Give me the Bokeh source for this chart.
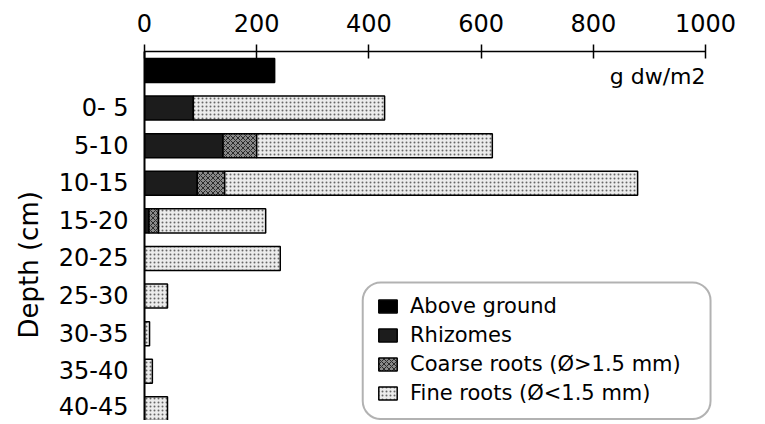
import numpy as np
from bokeh.plotting import figure
from bokeh.models import (Range1d, FixedTicker, BoxAnnotation, Label, Legend,
                          LegendItem, ColumnDataSource, Title)
from bokeh.embed import file_html
from bokeh.resources import INLINE

# ---- data (g dw / m2) ----
rows = ["", "0- 5", "5-10", "10-15", "15-20", "20-25", "25-30", "30-35", "35-40", "40-45"]
above_ground = [232, 0, 0, 0, 0, 0, 0, 0, 0, 0]
rhizomes = [0, 87, 140, 94, 8, 0, 0, 0, 0, 0]
coarse_roots = [0, 0, 60, 49, 17, 0, 0, 0, 0, 0]
fine_roots = [0, 341, 420, 736, 191, 242, 41, 9, 14, 41]
x_ticks = [0, 200, 400, 600, 800, 1000]
series_labels = ["Above ground", "Rhizomes", "Coarse roots (Ø>1.5 mm)", "Fine roots (Ø<1.5 mm)"]

FONT = "DejaVu Sans"

ypos = np.arange(len(rows))
ag = np.array(above_ground, float)
rh = np.array(rhizomes, float)
co = np.array(coarse_roots, float)
fi = np.array(fine_roots, float)


def src(left, right):
    m = (right - left) > 0
    return ColumnDataSource(dict(y=ypos[m], left=left[m], right=right[m]))


p = figure(width=749, height=420,
           x_range=Range1d(0, 1062.4), y_range=Range1d(9.309, -0.505),
           x_axis_location="above", output_backend="svg", toolbar_location=None,
           min_border_left=144, min_border_top=51, min_border_right=9,
           min_border_bottom=0)
p.outline_line_color = None
p.xgrid.visible = False
p.ygrid.visible = False

H = 0.64
r_ag = p.hbar(y="y", left="left", right="right", height=H, source=src(np.zeros_like(ag), ag),
              fill_color="black", line_color="black", line_width=1.5)
r_rh = p.hbar(y="y", left="left", right="right", height=H, source=src(np.zeros_like(rh), rh),
              fill_color="#1c1c1c", line_color="black", line_width=1.5)
r_co = p.hbar(y="y", left="left", right="right", height=H, source=src(rh, rh + co),
              fill_color="#8a8a8a", line_color="black", line_width=1.5,
              hatch_pattern="diagonal_cross", hatch_scale=5, hatch_color="#2a2a2a",
              hatch_weight=1)
r_fi = p.hbar(y="y", left="left", right="right", height=H, source=src(rh + co, rh + co + fi),
              fill_color="#ececec", line_color="black", line_width=1.5,
              hatch_pattern="dot", hatch_scale=4, hatch_color="#666666", hatch_weight=1)

# top axis
xa = p.xaxis[0]
xa.ticker = FixedTicker(ticks=x_ticks)
xa.bounds = (0, 1000)
xa.major_tick_in = 7
xa.major_tick_out = 7
xa.minor_tick_line_color = None
xa.axis_line_width = 1.5
xa.major_tick_line_width = 1.5
xa.major_label_text_font = FONT
xa.major_label_text_font_size = "24px"
xa.major_label_text_color = "black"
xa.major_label_standoff = 13

# left axis
ya = p.yaxis[0]
ya.ticker = FixedTicker(ticks=list(range(1, len(rows))))
ya.major_label_overrides = {i: rows[i] for i in range(1, len(rows))}
ya.major_tick_out = 0
ya.major_tick_in = 0
ya.minor_tick_line_color = None
ya.axis_line_width = 2
ya.major_label_text_font = FONT
ya.major_label_text_font_size = "24px"
ya.major_label_text_color = "black"
ya.major_label_standoff = 16

# y axis title, as a vertical title on the left side
p.add_layout(Title(text="Depth (cm)", align="left", offset=82, standoff=20,
                   vertical_align="top", text_line_height=0.7,
                   text_font=FONT, text_font_size="26px", text_font_style="normal",
                   text_color="black"), "left")

p.add_layout(Label(x=1000, y=0.16, text="g dw/m2", text_align="right", text_baseline="middle",
                   text_font=FONT, text_font_size="22px", text_color="black"))

box = BoxAnnotation(left=389, right=1009, top=5.639, bottom=9.27, fill_color="white",
                    fill_alpha=1, line_color="black", line_width=2, border_radius=18)
p.add_layout(box)

legend = Legend(items=[LegendItem(label=series_labels[0], renderers=[r_ag]),
                       LegendItem(label=series_labels[1], renderers=[r_rh]),
                       LegendItem(label=series_labels[2], renderers=[r_co]),
                       LegendItem(label=series_labels[3], renderers=[r_fi])],
                location=(232, 15), padding=0, spacing=5, margin=0,
                glyph_width=23, glyph_height=16, label_height=20, label_standoff=11,
                border_line_alpha=0, background_fill_alpha=0,
                label_text_font=FONT, label_text_font_size="21px",
                label_text_color="black")
p.add_layout(legend)

open("out.html", "w").write(file_html(p, INLINE))
